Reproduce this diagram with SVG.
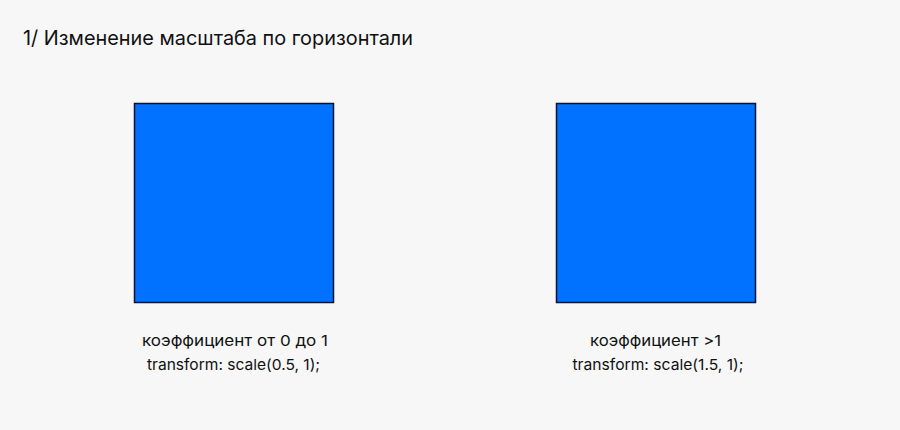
<svg xmlns="http://www.w3.org/2000/svg" width="900" height="430" viewBox="0 0 900 430">
<style>
.bg{fill:#f7f7f7}
.sq{fill:#0072ff;stroke:#0b1230;stroke-width:1.5}
.t{font-family:"Inter","Liberation Sans",sans-serif;fill:#111}
.title{font-size:20px}
.lbl{font-size:15px;text-anchor:middle}
</style>
<rect class="bg" x="0" y="0" width="900" height="430"/>
<text class="t title" x="23" y="45" textLength="390" lengthAdjust="spacingAndGlyphs">1/ Изменение масштаба по горизонтали</text>
<g id="node-left">
<rect class="sq" x="134.5" y="103.5" width="199" height="199"/>
<text class="t lbl" x="235" y="346" textLength="186" lengthAdjust="spacingAndGlyphs">коэффициент от 0 до 1</text>
<text class="t lbl" x="233.5" y="370" textLength="173" lengthAdjust="spacingAndGlyphs">transform: scale(0.5, 1);</text>
</g>
<g id="node-right">
<rect class="sq" x="556.5" y="103.5" width="199" height="199"/>
<text class="t lbl" x="655.5" y="346" textLength="131" lengthAdjust="spacingAndGlyphs">коэффициент &gt;1</text>
<text class="t lbl" x="658" y="370" textLength="171" lengthAdjust="spacingAndGlyphs">transform: scale(1.5, 1);</text>
</g>
<g id="connectors"/>
</svg>
